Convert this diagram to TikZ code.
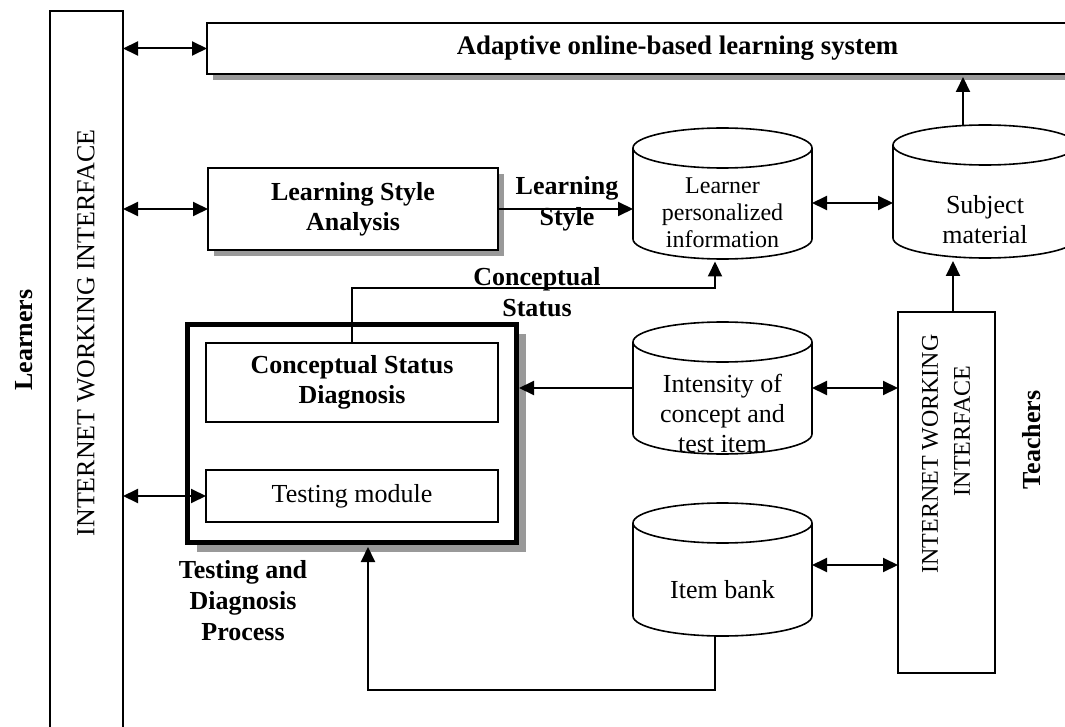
\documentclass[tikz,border=0pt]{standalone}
\usepackage{fontspec}
\setmainfont{Liberation Serif}
\usetikzlibrary{arrows.meta,shadows}

\tikzset{
  box/.style={draw, line width=0.8pt, inner sep=0pt, outer sep=0pt, align=center,
    font=\fontsize{13}{15}\selectfont},
  bbox/.style={box, font=\bfseries\fontsize{13}{15}\selectfont},
  shadowed/.style={drop shadow={shadow xshift=#1, shadow yshift=-#1, fill=black!40, opacity=1}},
  shadowed/.default=3pt,
  cylbody/.style={inner sep=0pt, outer sep=0pt},
  cylline/.style={line width=0.8pt},
  cyltext/.style 2 args={align=center, inner sep=0pt, font=\fontsize{#1}{#2}\selectfont},
  lbl/.style={align=center, inner sep=0pt, font=\bfseries\fontsize{13}{15.5}\selectfont},
  vtext/.style={rotate=90, align=center, inner sep=0pt},
  tip/.tip={Triangle[length=7.5pt,width=7pt]},
  conn/.style={line width=1pt, -tip},
  dconn/.style={line width=1pt, tip-tip},
}

% database drum: name, centre, width, height
\newcommand\dbcyl[4]{%
  \node[cylbody, minimum width=#3, minimum height=#4] (#1) at (#2) {};
  \draw[cylline] ([yshift=-10pt]#1.north west) -- ([yshift=10pt]#1.south west)
    arc[start angle=180, end angle=360, x radius=#3/2, y radius=10pt]
    -- ([yshift=-10pt]#1.north east);
  \draw[cylline] ([yshift=-10pt]#1.north) ellipse[x radius=#3/2, y radius=10pt];
}

\begin{document}
\begin{tikzpicture}[x=0.5pt, y=-0.5pt]
\useasboundingbox (0,0) rectangle (1065,727);

% learners side
\node[draw, line width=0.8pt, inner sep=0pt, outer sep=0pt,
      minimum width=36.5pt, minimum height=364.5pt] (lif) at (86.5,375.5) {};
\node[vtext, font=\fontsize{13}{15}\selectfont] (liftext) at (86,333) {INTERNET WORKING INTERFACE};
\node[vtext, lbl] (learners) at (24,340) {Learners};

% system blocks
\node[bbox, shadowed, fill=white, minimum width=470.5pt, minimum height=25.5pt,
      font=\bfseries\fontsize{13.4}{15}\selectfont] (tops) at (677.5,48.5)
  {Adaptive online-based learning system};
\node[bbox, shadowed, fill=white, minimum width=145pt, minimum height=41pt] (lsa) at (353,209)
  {Learning Style\\Analysis};

% testing and diagnosis process
\node[draw, line width=2.5pt, fill=white, shadowed=4.5pt, inner sep=0pt, outer sep=0pt,
      minimum width=164.5pt, minimum height=109pt] (tdp) at (352,433.5) {};
\node[bbox, minimum width=146pt, minimum height=39.5pt] (csd) at (352,382.5)
  {Conceptual Status\\Diagnosis};
\node[box, minimum width=146pt, minimum height=26pt] (tm) at (352,496) {Testing module};
\node[lbl] (tdplbl) at (243,601) {Testing and\\Diagnosis\\Process};

% databases
\dbcyl{lpi}{722.5,193.5}{89.5pt}{65.5pt}
\node[cyltext={12}{13.5}] (lpitext) at (722.5,213) {Learner\\personalized\\information};
\dbcyl{subj}{985,191.5}{92pt}{66.5pt}
\node[cyltext={13}{15}] (subjtext) at (985,220) {Subject\\material};
\dbcyl{ints}{722.5,388}{89.5pt}{66pt}
\node[cyltext={13}{15}] (intstext) at (722.5,413) {Intensity of\\concept and\\test item};
\dbcyl{ibank}{722.5,569.5}{89.5pt}{66.5pt}
\node[cyltext={13}{15}] (ibanktext) at (722.5,590) {Item bank};

% teachers side
\node[box, minimum width=48.5pt, minimum height=180.5pt] (tif) at (946.5,492.5) {};
\node[vtext, font=\fontsize{12}{16}\selectfont] (tiftext) at (946,454)
  {INTERNET WORKING\\\hspace*{23pt}INTERFACE};
\node[vtext, lbl] (teachers) at (1032,440) {Teachers};

% flow labels
\node[lbl] (lslbl) at (567,204) {Learning\\Style};
\node[lbl] (cslbl) at (537,292) {Conceptual\\Status};

% connectors
\draw[dconn] (tops.west -| lif.east) -- (tops.west);
\draw[dconn] (lsa.west -| lif.east) -- (lsa.west);
\draw[dconn] (tm.west -| lif.east) -- (tm.west);
\draw[conn] (lsa.east) -- (lsa.east -| lpi.west);
\draw[dconn] ([yshift=-4.75pt]lpi.east) -- ([yshift=-4.75pt]lpi.east -| subj.west);
\draw[conn, shorten >=1.5pt] ([xshift=-11pt]subj.north) -- ([xshift=-11pt]subj.north |- tops.south);
\draw[conn, shorten >=1.25pt] (csd.north) |- ([xshift=-3.75pt,yshift=-14.5pt]lpi.south) -- ([xshift=-3.75pt]lpi.south);
\draw[conn, shorten >=1.25pt] (ints.west) -- (ints.west -| tdp.east);
\draw[dconn] (ints.east) -- (ints.east -| tif.west);
\draw[dconn] ([yshift=2.25pt]ibank.east) -- ([yshift=2.25pt]ibank.east -| tif.west);
\draw[conn, shorten >=2.25pt] ([xshift=-3.75pt]ibank.south) |- ([xshift=8pt,yshift=-73.75pt]tdp.south)
  -- ([xshift=8pt]tdp.south);
\draw[conn, shorten >=1.5pt] ([xshift=3.25pt]tif.north) -- ([xshift=3.25pt]tif.north |- subj.south);
\end{tikzpicture}
\end{document}
